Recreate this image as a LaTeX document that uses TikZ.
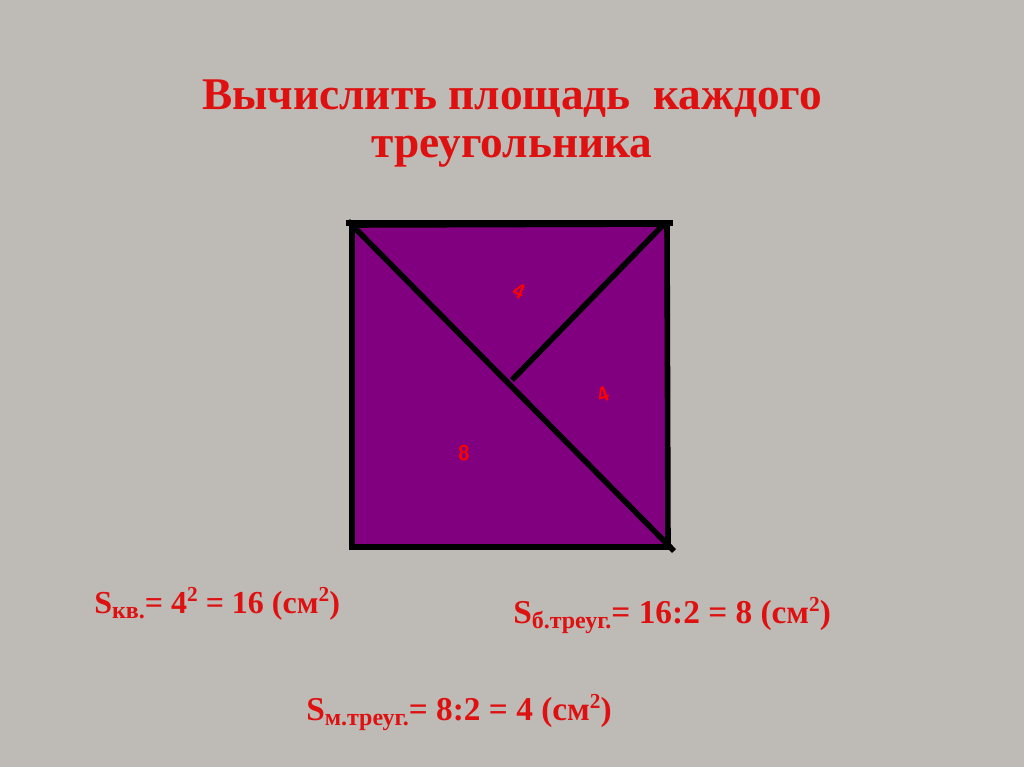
\documentclass[tikz,border=0pt]{standalone}
\usepackage{fontspec}
\setmainfont{Liberation Serif}
\definecolor{bg}{RGB}{190,186,181}
\definecolor{purp}{RGB}{128,0,128}
\definecolor{txtred}{RGB}{222,16,16}
\newcommand{\sbsc}[1]{\raisebox{-0.35ex}{\fontsize{18}{18}\selectfont #1}}
\newcommand{\spsc}[1]{\raisebox{0.75ex}{\fontsize{16}{16}\selectfont #1}}
\tikzset{
  title/.style={font=\fontsize{34}{34}\selectfont\bfseries, text=txtred, anchor=base, inner sep=0pt},
  formula/.style={font=\fontsize{25}{25}\selectfont\bfseries, text=txtred, anchor=base west, inner sep=0pt},
  edge/.style={line width=4.2pt, black},
  lab/.style={font=\fontsize{16}{16}\selectfont\bfseries\sffamily, text=red, inner sep=0pt}
}
\begin{document}
\begin{tikzpicture}[x=0.75pt,y=-0.75pt]
\fill[bg] (0,0) rectangle (1024,767);
\useasboundingbox (0,0) rectangle (1024,767);
\node[title] (t1) at (512,109) {Вычислить площадь\ \ каждого};
\node[title] (t2) at (512,157) {треугольника};
% square
\coordinate (A) at (352,225);
\coordinate (B) at (667,224);
\coordinate (C) at (668,547);
\coordinate (D) at (352,547);
\coordinate (M) at (512,380);
\fill[purp] (A) -- (B) -- (C) -- (D) -- cycle;
\draw[edge] (A) -- (B) -- (C) -- (D) -- cycle;
\draw[edge] (346,223) -- (673,223);
\draw[edge] (348,221) -- (674,551);
\draw[edge] (666,222) -- (M);
\node[lab, rotate=-25] (l1) at (519,291) {4};
\node[lab, rotate=20] (l2) at (603,395) {4};
\node[lab] (l3) at (464,453) {8};
\node[formula, font=\fontsize{24}{24}\selectfont\bfseries] (f1) at (94,613) {S\sbsc{кв.}= 4\spsc{2} = 16 (см\spsc{2})};
\node[formula] (f2) at (513,623) {S\sbsc{б.треуг.}= 16:2 = 8 (см\spsc{2})};
\node[formula] (f3) at (306,720) {S\sbsc{м.треуг.}= 8:2 = 4 (см\spsc{2})};
\end{tikzpicture}
\end{document}
